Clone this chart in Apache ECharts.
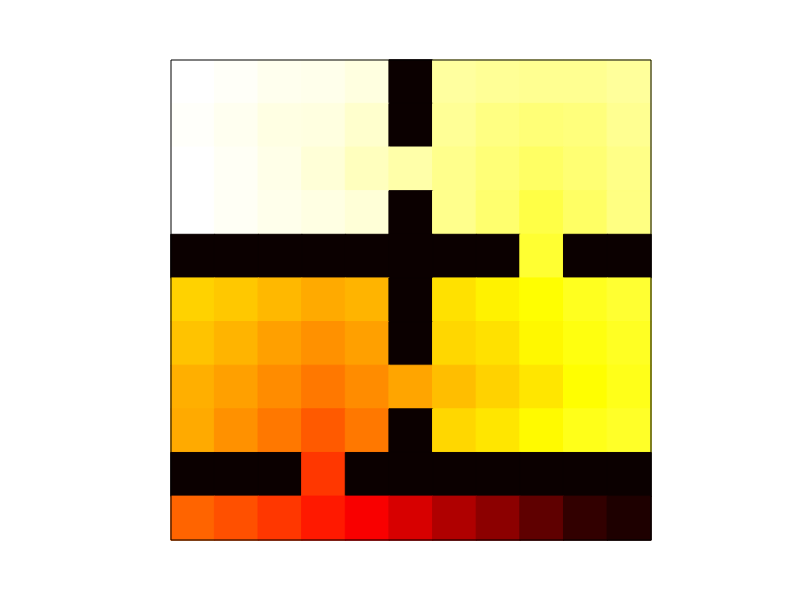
<!DOCTYPE html>
<html>
<head>
<meta charset="utf-8">
<script src="https://cdn.jsdelivr.net/npm/echarts@6/dist/echarts.min.js"></script>
<style>html,body{margin:0;padding:0;background:#fff;}#c{width:800px;height:600px;}</style>
</head>
<body>
<div id="c"></div>
<script>
// Column and row labels (hidden axes)
var cols = ['0','1','2','3','4','5','6','7','8','9','10'];
var rows = ['0','1','2','3','4','5','6','7','8','9','10'];
// Normalised values (0..1) per row, top row first
var row0  = [1.000, 0.993, 0.983, 0.980, 0.970, 0, 0.905, 0.895, 0.890, 0.890, 0.900];
var row1  = [0.995, 0.985, 0.973, 0.970, 0.950, 0, 0.895, 0.875, 0.865, 0.870, 0.890];
var row2  = [1.000, 0.990, 0.977, 0.960, 0.935, 0.915, 0.885, 0.865, 0.846, 0.861, 0.880];
var row3  = [1.000, 0.990, 0.980, 0.973, 0.960, 0, 0.885, 0.856, 0.816, 0.846, 0.875];
var row4  = [0, 0, 0, 0, 0, 0, 0, 0, 0.796, 0, 0];
var row5  = [0.679, 0.664, 0.641, 0.619, 0.634, 0, 0.701, 0.727, 0.746, 0.776, 0.796];
var row6  = [0.656, 0.634, 0.604, 0.582, 0.604, 0, 0.686, 0.701, 0.736, 0.761, 0.781];
var row7  = [0.626, 0.604, 0.574, 0.544, 0.574, 0.612, 0.649, 0.679, 0.709, 0.746, 0.771];
var row8  = [0.619, 0.582, 0.544, 0.499, 0.544, 0, 0.686, 0.709, 0.739, 0.771, 0.786];
var row9  = [0, 0, 0, 0.447, 0, 0, 0, 0, 0, 0, 0];
var row10 = [0.514, 0.484, 0.447, 0.402, 0.357, 0.305, 0.246, 0.193, 0.126, 0.059, 0.029];
var allRows = [row0,row1,row2,row3,row4,row5,row6,row7,row8,row9,row10];

// matplotlib 'hot' colormap
function hot(t){
  var r = t < 0.365079 ? 0.0416 + (1-0.0416)*t/0.365079 : 1;
  var g = t < 0.365079 ? 0 : (t < 0.746032 ? (t-0.365079)/(0.746032-0.365079) : 1);
  var b = t < 0.746032 ? 0 : (t-0.746032)/(1-0.746032);
  function h(x){ var s = Math.round(Math.max(0,Math.min(1,x))*255).toString(16); return s.length<2?'0'+s:s; }
  return '#'+h(r)+h(g)+h(b);
}
var hotColors = [];
for (var i=0;i<=255;i++) hotColors.push(hot(i/255));

var data = [];
allRows.forEach(function(r, yi){ r.forEach(function(v, xi){
  data.push({value: [xi, yi, v], itemStyle: {borderColor: hot(v), borderWidth: 1}});
}); });

var chart = echarts.init(document.getElementById('c'));
chart.setOption({
  backgroundColor: '#ffffff',
  animation: false,
  grid: {left: 171, top: 60, width: 480, height: 480},
  xAxis: {type: 'category', data: cols, show: false},
  yAxis: {type: 'category', data: rows, inverse: true, show: false},
  visualMap: {show: false, type: 'continuous', min: 0, max: 1, dimension: 2, inRange: {color: hotColors}},
  series: [{type: 'heatmap', data: data, emphasis: {disabled: true}}],
  graphic: [{type: 'rect', z: 100, shape: {x: 171, y: 60, width: 480, height: 480},
    style: {fill: 'none', stroke: '#000', lineWidth: 1}}]
});
</script>
</body>
</html>
